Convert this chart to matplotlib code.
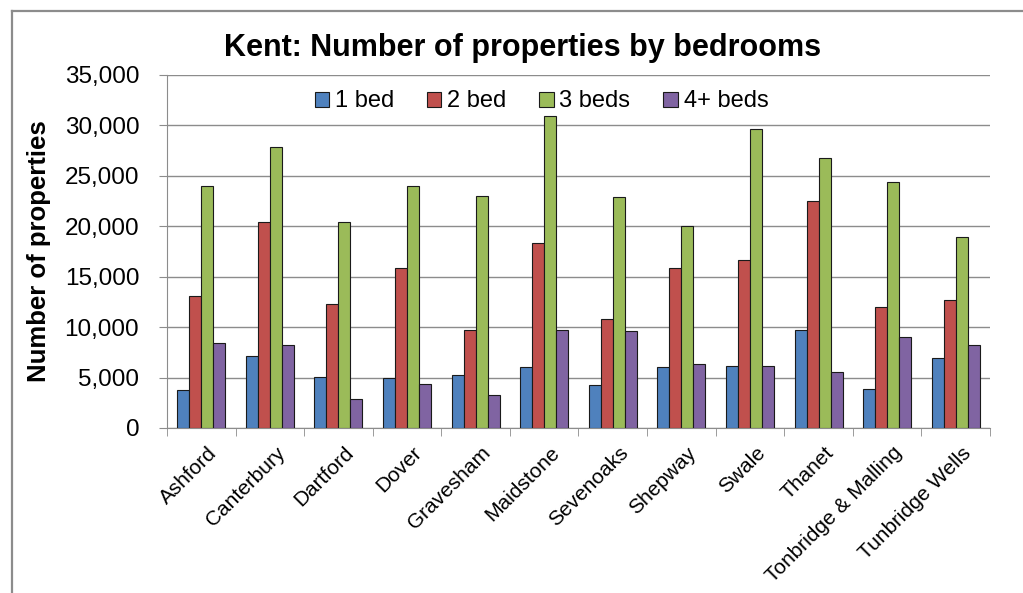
import matplotlib
matplotlib.use("Agg")
import matplotlib.pyplot as plt
import numpy as np
from matplotlib.lines import Line2D
from matplotlib.ticker import FuncFormatter, MultipleLocator

plt.rcParams['font.family'] = ['Liberation Sans', 'DejaVu Sans']

districts = ["Ashford", "Canterbury", "Dartford", "Dover", "Gravesham", "Maidstone",
             "Sevenoaks", "Shepway", "Swale", "Thanet", "Tonbridge & Malling", "Tunbridge Wells"]
series_names = ["1 bed", "2 bed", "3 beds", "4+ beds"]
bed1 = [3800, 7100, 5100, 5000, 5300, 6000, 4300, 6000, 6100, 9700, 3900, 6900]
bed2 = [13100, 20400, 12300, 15900, 9700, 18300, 10800, 15900, 16700, 22500, 12000, 12700]
bed3 = [24000, 27900, 20400, 24000, 23000, 30900, 22900, 20000, 29600, 26800, 24400, 18900]
bed4 = [8400, 8200, 2900, 4400, 3300, 9700, 9600, 6300, 6100, 5600, 9000, 8200]
colors = ["#4F81BD", "#C0504D", "#9BBB59", "#8064A2"]

W, H = 1023, 593
fig = plt.figure(figsize=(W/100, H/100), dpi=100)
# outer chart-area frame (only top and left edges visible in the reference)
fig.lines.append(Line2D([12/W, 1.0], [1-11/H, 1-11/H], transform=fig.transFigure,
                        color="#8C8C8C", linewidth=1.6))
fig.lines.append(Line2D([12/W, 12/W], [0, 1-11/H], transform=fig.transFigure,
                        color="#8C8C8C", linewidth=1.6))

ax = fig.add_axes([167/W, 1-428/H, (990-167)/W, (428-75)/H])
x = np.arange(len(districts))
bw = 0.175
for i, (vals, c, name) in enumerate(zip([bed1, bed2, bed3, bed4], colors, series_names)):
    ax.bar(x + (i-1.5)*bw, vals, bw, color=c, edgecolor="#1a1a1a", linewidth=0.8,
           label=name, zorder=3)

ax.set_xlim(-0.5, len(districts)-0.5)
ax.set_ylim(0, 35000)
ax.yaxis.set_major_locator(MultipleLocator(5000))
ax.yaxis.set_major_formatter(FuncFormatter(lambda v, p: f"{int(v):,}"))
ax.grid(axis='y', color="#8C8C8C", linewidth=1.0, zorder=0)
ax.set_axisbelow(True)

ax.set_xticks(x + 0.08)
ax.set_xticklabels(districts, rotation=45, ha='right', rotation_mode='anchor', fontsize=15)
ax.set_xticks(np.arange(-0.5, len(districts)), minor=True)
ax.tick_params(axis='x', which='major', length=0, pad=11)
ax.tick_params(axis='x', which='minor', length=6, color="#8C8C8C", direction='out')
ax.tick_params(axis='y', length=6, color="#8C8C8C", labelsize=17.5, direction='out', pad=14)

for s in ['top', 'right']:
    ax.spines[s].set_visible(False)
for s in ['left', 'bottom']:
    ax.spines[s].set_color("#8C8C8C")

ax.set_ylabel("Number of properties", fontsize=18.5, fontweight='bold', labelpad=10)
fig.text(523/W, 1-48/H, "Kent: Number of properties by bedrooms", ha='center', va='center',
         fontsize=22, fontweight='bold')

leg = ax.legend(loc='upper center', bbox_to_anchor=(0.455, 1.0), ncol=4, frameon=False,
                fontsize=17, handlelength=0.6, handleheight=0.6, handletextpad=0.25,
                columnspacing=1.4, borderaxespad=0.25)
for p in leg.get_patches():
    p.set_edgecolor("#1a1a1a")
    p.set_linewidth(0.8)

fig.savefig("out.png", dpi=100)
